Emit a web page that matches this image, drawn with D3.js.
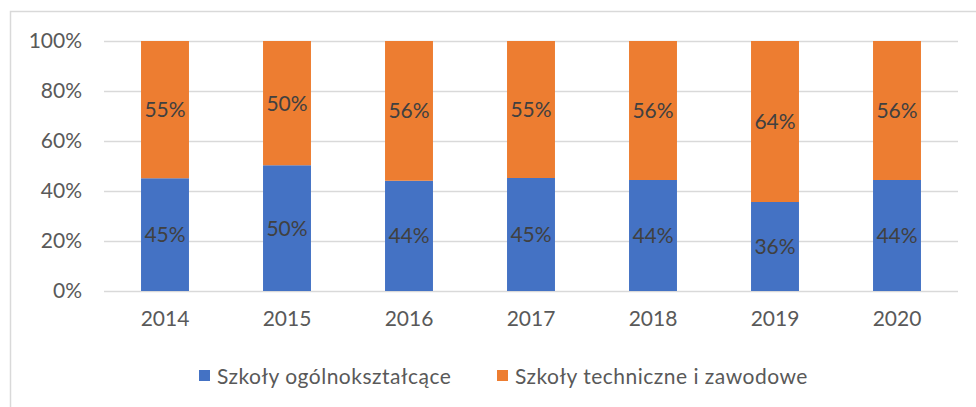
<!DOCTYPE html>
<html>
<head>
<meta charset="utf-8">
<script src="https://cdn.jsdelivr.net/npm/d3@7"></script>
<style>
  body { margin: 0; background: #fff; }
  text { font-family: Lato, "Open Sans", sans-serif; }
</style>
</head>
<body>
<div id="chart"></div>
<script>
// data (share of students, %)
let years = ["2014", "2015", "2016", "2017", "2018", "2019", "2020"]
let general = [45.1, 50.3, 44.1, 45.2, 44.4, 35.6, 44.4]
let technical = [54.9, 49.7, 55.9, 54.8, 55.6, 64.4, 55.6]
let seriesNames = ["Szkoły ogólnokształcące", "Szkoły techniczne i zawodowe"]
let seriesColors = ["#4472C4", "#ED7D31"]
let yTicks = [0, 20, 40, 60, 80, 100]

let svgWidth = 976
let svgHeight = 407
let margin = { left: 104, right: 18, top: 41, bottom: 116 }
let width = svgWidth - margin.left - margin.right
let height = svgHeight - margin.top - margin.bottom

let root = d3.select('#chart')
    .append('svg')
    .attr('width', svgWidth)
    .attr('height', svgHeight)

// outer chart border
root.append('rect')
    .attr('x', 10.5).attr('y', 11.5)
    .attr('width', 1000).attr('height', 500)
    .attr('fill', 'none')
    .attr('stroke', '#d9d9d9')
    .attr('stroke-width', 1.5)

let svg = root.append('g')
    .attr('transform', `translate(${margin.left},${margin.top})`)

let xScale = d3.scaleBand()
    .domain(years)
    .range([0, width])
    .paddingInner(0.607)
    .paddingOuter(0.3035)

let yScale = d3.scaleLinear()
    .domain([0, 100])
    .range([height, 0])

// gridlines
svg.append('g')
    .selectAll('line')
    .data(yTicks)
    .join('line')
    .attr('x1', 0).attr('x2', width)
    .attr('y1', d => Math.round(yScale(d)) + 0.5)
    .attr('y2', d => Math.round(yScale(d)) + 0.5)
    .attr('stroke', '#d9d9d9')
    .attr('stroke-width', 1.3)

// y axis labels
let yAxis = d3.axisLeft(yScale)
    .tickValues(yTicks)
    .tickFormat(d => d + '%')
    .tickSize(0)
    .tickPadding(22)
svg.append('g').call(yAxis)
    .call(g => g.select('.domain').remove())
    .selectAll('text')
    .attr('font-size', 21)
    .attr('fill', '#595959')

// x axis labels
let xAxis = d3.axisBottom(xScale).tickSize(0).tickPadding(20)
svg.append('g')
    .attr('transform', `translate(0,${height})`)
    .call(xAxis)
    .call(g => g.select('.domain').remove())
    .selectAll('text')
    .attr('font-size', 21)
    .attr('fill', '#595959')

// stacked bars
let rows = years.map((y, i) => ({ year: y, general: general[i], technical: technical[i] }))
let stack = d3.stack().keys(['general', 'technical'])(rows)

stack.forEach((layer, k) => {
    let g = svg.append('g')
    g.selectAll('rect')
        .data(layer)
        .join('rect')
        .attr('x', d => xScale(d.data.year))
        .attr('width', xScale.bandwidth())
        .attr('y', d => yScale(d[1]))
        .attr('height', d => yScale(d[0]) - yScale(d[1]))
        .attr('fill', seriesColors[k])
    g.selectAll('text')
        .data(layer)
        .join('text')
        .attr('x', d => xScale(d.data.year) + xScale.bandwidth() / 2)
        .attr('y', d => (yScale(d[0]) + yScale(d[1])) / 2)
        .attr('dy', '0.36em')
        .attr('text-anchor', 'middle')
        .attr('font-size', 21)
        .attr('fill', '#404040')
        .text(d => Math.round(d[1] - d[0]) + '%')
})

// legend
let legendX = [199, 497]
let legend = root.append('g')
seriesNames.forEach((name, i) => {
    legend.append('rect')
        .attr('x', legendX[i]).attr('y', 370)
        .attr('width', 11).attr('height', 11)
        .attr('fill', seriesColors[i])
    legend.append('text')
        .attr('x', legendX[i] + 18).attr('y', 376)
        .attr('dy', '0.36em')
        .attr('font-size', 21)
        .attr('letter-spacing', 0.5)
        .attr('fill', '#595959')
        .text(name)
})
</script>
</body>
</html>
